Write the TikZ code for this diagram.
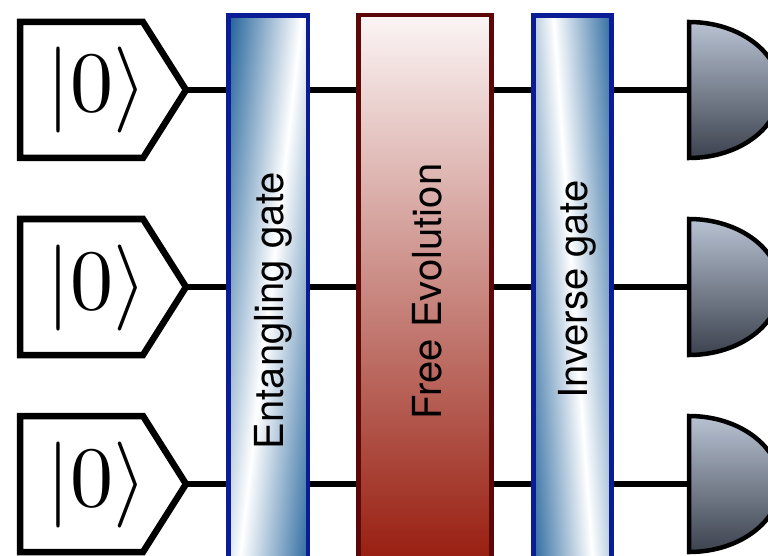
\documentclass[tikz,border=0pt]{standalone}
\usepackage{graphicx}
\usepackage{fontspec}
\setsansfont{TeX Gyre Heros}
\definecolor{gdark}{RGB}{42,104,158}
\definecolor{gblue}{RGB}{10,28,150}
\definecolor{ftop}{RGB}{251,245,245}
\definecolor{fbot}{RGB}{152,30,16}
\definecolor{fred}{RGB}{92,8,8}
\definecolor{mtop}{RGB}{184,194,210}
\definecolor{mbot}{RGB}{60,66,78}
\begin{document}
\begin{tikzpicture}[x=1pt,y=-1pt,
  inbox/.style={draw=black, line width=6.5pt, fill=white, line join=miter},
  wire/.style={draw=black, line width=5.5pt},
  gateborder/.style={draw=gblue, line width=4.5pt},
  freebox/.style={draw=fred, line width=4.5pt, top color=ftop, bottom color=fbot},
  meas/.style={draw=black, line width=4.5pt, top color=mtop, bottom color=mbot},
  lbl/.style={font=\sffamily\fontsize{40}{40}\selectfont, rotate=90, inner sep=0pt},
  ket/.style={inner sep=0pt}]
\clip (0,0) rectangle (768,556);
\fill[white] (0,0) rectangle (768,556);
% coordinates
\foreach \y [count=\r] in {90,287,484} {
  \coordinate (in\r) at (186,\y);
  \coordinate (m\r) at (689,\y);
}
% wires
\foreach \r in {1,2,3} \draw[wire] (in\r) -- (m\r);
% input boxes and measurements
\foreach \y [count=\r] in {90,287,484} {
  \draw[inbox] (20,\y-68) -- (143,\y-68) -- (186,\y) -- (143,\y+68) -- (20,\y+68) -- cycle;
  \node[ket] (k\r) at (96.5,\y+0.5) {\scalebox{8.6}{$|0\rangle$}};
  \draw[meas] (689,\y+68) -- (689,\y-68) arc[start angle=-90,end angle=90,x radius=91,y radius=68] -- cycle;
}
% entangling gate
\begin{scope}
  \clip (228.5,15.5) rectangle (308,580);
  \fill[gdark] (228.5,15.5) rectangle (308,580);
  \begin{scope}[transform canvas={cm={1,0,0.114,1,(0,0)}}]
    \shade[left color=gdark,right color=gdark,middle color=white] (233.5,-20) rectangle (373.5,600);
  \end{scope}
\end{scope}
\draw[gateborder] (228.5,15.5) rectangle (308,580);
\node[lbl] (ent) at (273,310.5) {Entangling gate};
% free evolution
\draw[freebox] (358.3,15.2) rectangle (491.5,560);
\node[lbl] (free) at (427.6,291.5) {Free Evolution};
% inverse gate
\begin{scope}
  \clip (533.3,15.3) rectangle (611.7,580);
  \fill[gdark] (533.3,15.3) rectangle (611.7,580);
  \begin{scope}[transform canvas={cm={1,0,-0.0718,1,(0,0)}}]
    \shade[left color=gdark,right color=gdark,middle color=white] (492.1,-20) rectangle (612.1,600);
  \end{scope}
\end{scope}
\draw[gateborder] (533.3,15.3) rectangle (611.7,580);
\node[lbl] (inv) at (577,289.5) {Inverse gate};
\end{tikzpicture}
\end{document}
